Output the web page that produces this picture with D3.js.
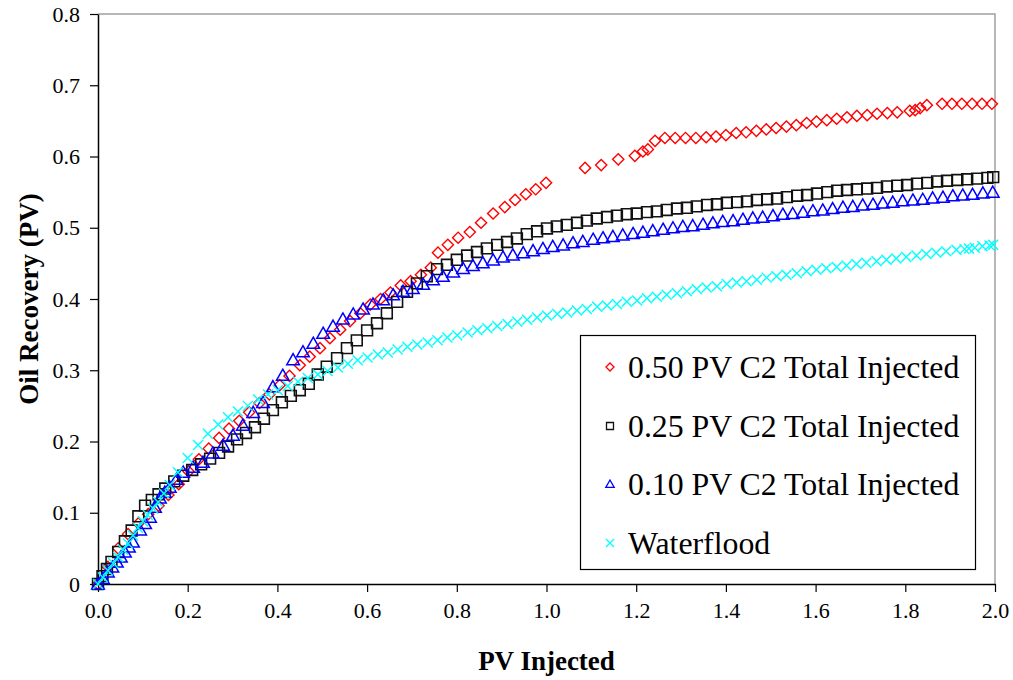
<!DOCTYPE html>
<html>
<head>
<meta charset="utf-8">
<script src="https://cdn.jsdelivr.net/npm/d3@7"></script>
<style>
  html, body { margin: 0; padding: 0; background: #fff; }
  svg { display: block; font-family: "Liberation Serif", "Times New Roman", serif; }
</style>
</head>
<body>
<svg id="chart" width="1013" height="680"></svg>
<script>
// Oil recovery vs. pore volumes injected

const xTicks = [0, 0.2, 0.4, 0.6, 0.8, 1.0, 1.2, 1.4, 1.6, 1.8, 2.0];
const yTicks = [0, 0.1, 0.2, 0.3, 0.4, 0.5, 0.6, 0.7, 0.8];
const seriesNames = ["0.50 PV C2 Total Injected", "0.25 PV C2 Total Injected",
                     "0.10 PV C2 Total Injected", "Waterflood"];

// 0.50 PV C2 slug
const pv50X = [0, 0.022, 0.045, 0.067, 0.09, 0.112, 0.135, 0.157, 0.18, 0.202, 0.225, 0.247, 0.27, 0.292,
  0.315, 0.337, 0.36, 0.382, 0.405, 0.427, 0.45, 0.472, 0.495, 0.517, 0.54, 0.562, 0.585, 0.607, 0.63,
  0.652, 0.675, 0.697, 0.72, 0.742, 0.758, 0.78, 0.803, 0.829, 0.854, 0.881, 0.907, 0.93, 0.954, 0.976,
  0.999, 1.086, 1.122, 1.16, 1.197, 1.215, 1.226, 1.242, 1.264, 1.287, 1.31, 1.333, 1.356, 1.378, 1.4,
  1.423, 1.445, 1.468, 1.49, 1.512, 1.535, 1.557, 1.58, 1.602, 1.625, 1.647, 1.67, 1.692, 1.715, 1.737,
  1.76, 1.782, 1.81, 1.822, 1.833, 1.848, 1.882, 1.904, 1.926, 1.949, 1.971, 1.993];
const pv50Y = [0, 0.024, 0.05, 0.07, 0.085, 0.098, 0.11, 0.125, 0.14, 0.158, 0.175, 0.19, 0.205, 0.218,
  0.229, 0.241, 0.254, 0.266, 0.279, 0.292, 0.307, 0.319, 0.331, 0.345, 0.357, 0.369, 0.38, 0.392, 0.4,
  0.409, 0.419, 0.425, 0.434, 0.444, 0.465, 0.476, 0.486, 0.494, 0.507, 0.52, 0.529, 0.539, 0.547, 0.554,
  0.563, 0.584, 0.588, 0.596, 0.601, 0.607, 0.61, 0.622, 0.626, 0.626, 0.626, 0.626, 0.627, 0.628, 0.63,
  0.633, 0.634, 0.636, 0.638, 0.64, 0.642, 0.644, 0.647, 0.649, 0.651, 0.653, 0.655, 0.657, 0.658, 0.66,
  0.661, 0.662, 0.664, 0.665, 0.668, 0.672, 0.674, 0.674, 0.674, 0.674, 0.674, 0.674];

// 0.25 PV C2 slug
const pv25X = [0, 0.01, 0.02, 0.03, 0.045, 0.06, 0.075, 0.09, 0.105, 0.12, 0.135, 0.15, 0.17, 0.19, 0.21,
  0.23, 0.25, 0.27, 0.29, 0.31, 0.33, 0.35, 0.37, 0.39, 0.41, 0.43, 0.45, 0.47, 0.49, 0.51, 0.533, 0.555,
  0.577, 0.6, 0.622, 0.644, 0.667, 0.689, 0.711, 0.733, 0.756, 0.778, 0.8, 0.823, 0.845, 0.867, 0.89,
  0.912, 0.934, 0.956, 0.979, 1.001, 1.023, 1.045, 1.068, 1.09, 1.112, 1.135, 1.157, 1.179, 1.201, 1.224,
  1.246, 1.268, 1.291, 1.313, 1.335, 1.358, 1.38, 1.402, 1.425, 1.447, 1.469, 1.492, 1.514, 1.536, 1.559,
  1.581, 1.603, 1.626, 1.648, 1.67, 1.692, 1.715, 1.737, 1.759, 1.782, 1.804, 1.826, 1.849, 1.871, 1.893,
  1.916, 1.938, 1.96, 1.983, 1.996];
const pv25Y = [0, 0.011, 0.021, 0.031, 0.045, 0.06, 0.075, 0.095, 0.11, 0.118, 0.126, 0.134, 0.144, 0.152,
  0.16, 0.168, 0.176, 0.184, 0.193, 0.203, 0.212, 0.22, 0.232, 0.244, 0.255, 0.264, 0.272, 0.281, 0.294,
  0.305, 0.317, 0.331, 0.342, 0.356, 0.366, 0.38, 0.396, 0.41, 0.422, 0.432, 0.442, 0.448, 0.455, 0.461,
  0.466, 0.471, 0.476, 0.48, 0.485, 0.491, 0.495, 0.499, 0.502, 0.504, 0.507, 0.51, 0.513, 0.515, 0.517,
  0.519, 0.52, 0.522, 0.523, 0.525, 0.527, 0.528, 0.53, 0.532, 0.533, 0.535, 0.536, 0.537, 0.539, 0.54,
  0.541, 0.543, 0.545, 0.546, 0.548, 0.55, 0.552, 0.553, 0.554, 0.555, 0.556, 0.558, 0.559, 0.56, 0.562,
  0.563, 0.565, 0.566, 0.567, 0.568, 0.569, 0.57, 0.571];

// 0.10 PV C2 slug
const pv10X = [0, 0.011, 0.022, 0.032, 0.042, 0.051, 0.06, 0.069, 0.078, 0.094, 0.105, 0.116, 0.127, 0.138,
  0.149, 0.16, 0.175, 0.19, 0.212, 0.234, 0.256, 0.279, 0.301, 0.323, 0.346, 0.368, 0.39, 0.412, 0.435,
  0.457, 0.48, 0.502, 0.524, 0.546, 0.569, 0.591, 0.613, 0.636, 0.658, 0.68, 0.702, 0.725, 0.747, 0.769,
  0.792, 0.814, 0.836, 0.858, 0.881, 0.903, 0.925, 0.948, 0.97, 0.992, 1.014, 1.037, 1.059, 1.081, 1.104,
  1.126, 1.148, 1.17, 1.193, 1.215, 1.237, 1.26, 1.282, 1.304, 1.326, 1.349, 1.371, 1.393, 1.416, 1.438,
  1.46, 1.482, 1.505, 1.527, 1.549, 1.572, 1.594, 1.616, 1.638, 1.661, 1.683, 1.705, 1.728, 1.75, 1.772,
  1.794, 1.817, 1.839, 1.861, 1.884, 1.906, 1.928, 1.95, 1.973, 1.995];
const pv10Y = [0, 0.008, 0.017, 0.024, 0.031, 0.038, 0.045, 0.052, 0.059, 0.076, 0.085, 0.094, 0.108, 0.121,
  0.129, 0.136, 0.147, 0.157, 0.164, 0.171, 0.184, 0.195, 0.209, 0.223, 0.241, 0.255, 0.277, 0.293, 0.315,
  0.326, 0.338, 0.352, 0.362, 0.372, 0.379, 0.386, 0.393, 0.399, 0.406, 0.411, 0.415, 0.421, 0.427, 0.432,
  0.438, 0.443, 0.447, 0.451, 0.455, 0.459, 0.462, 0.465, 0.468, 0.471, 0.474, 0.476, 0.479, 0.481, 0.484,
  0.486, 0.488, 0.49, 0.492, 0.494, 0.496, 0.498, 0.5, 0.502, 0.503, 0.505, 0.507, 0.509, 0.51, 0.512,
  0.514, 0.515, 0.517, 0.519, 0.52, 0.522, 0.524, 0.525, 0.527, 0.529, 0.53, 0.532, 0.533, 0.535, 0.536,
  0.538, 0.539, 0.54, 0.542, 0.543, 0.545, 0.546, 0.547, 0.549, 0.55];

// Waterflood baseline
const wfX = [0, 0.011, 0.022, 0.034, 0.045, 0.056, 0.067, 0.078, 0.089, 0.1, 0.111, 0.123, 0.134, 0.147,
  0.16, 0.178, 0.2, 0.223, 0.245, 0.268, 0.29, 0.312, 0.334, 0.357, 0.379, 0.401, 0.423, 0.446, 0.468,
  0.49, 0.512, 0.535, 0.557, 0.579, 0.601, 0.624, 0.646, 0.668, 0.69, 0.712, 0.735, 0.757, 0.779, 0.801,
  0.824, 0.846, 0.868, 0.89, 0.913, 0.935, 0.957, 0.979, 1.001, 1.024, 1.046, 1.068, 1.09, 1.113, 1.135,
  1.157, 1.179, 1.202, 1.224, 1.246, 1.268, 1.291, 1.313, 1.335, 1.357, 1.38, 1.402, 1.424, 1.446, 1.469,
  1.491, 1.513, 1.535, 1.558, 1.58, 1.602, 1.624, 1.647, 1.669, 1.691, 1.713, 1.736, 1.758, 1.78, 1.802,
  1.825, 1.847, 1.869, 1.891, 1.914, 1.932, 1.942, 1.955, 1.972, 1.988, 1.996];
const wfY = [0, 0.009, 0.019, 0.029, 0.038, 0.048, 0.057, 0.068, 0.079, 0.088, 0.097, 0.106, 0.115, 0.127,
  0.139, 0.157, 0.177, 0.195, 0.211, 0.224, 0.234, 0.242, 0.25, 0.259, 0.266, 0.272, 0.278, 0.284, 0.289,
  0.294, 0.299, 0.304, 0.309, 0.314, 0.318, 0.322, 0.325, 0.329, 0.333, 0.336, 0.339, 0.342, 0.346, 0.349,
  0.353, 0.356, 0.359, 0.362, 0.365, 0.368, 0.371, 0.374, 0.377, 0.379, 0.381, 0.384, 0.386, 0.389, 0.391,
  0.393, 0.396, 0.398, 0.401, 0.403, 0.406, 0.408, 0.411, 0.414, 0.416, 0.418, 0.421, 0.423, 0.425, 0.427,
  0.43, 0.432, 0.434, 0.436, 0.439, 0.441, 0.443, 0.445, 0.447, 0.449, 0.451, 0.453, 0.455, 0.457, 0.459,
  0.461, 0.463, 0.465, 0.467, 0.469, 0.47, 0.471, 0.472, 0.474, 0.475, 0.476];

const svg = d3.select("#chart");
const plot = { left: 98, right: 995, top: 14, bottom: 584 };

const x = d3.scaleLinear().domain([0, 2]).range([plot.left, plot.right]);
const y = d3.scaleLinear().domain([0, 0.8]).range([plot.bottom, plot.top]);

// Marker shapes (centred on 0,0)
const shapes = {
  diamond: r => `M0,${-r}L${r},0L0,${r}L${-r},0Z`,
  square: r => `M${-r},${-r}H${r}V${r}H${-r}Z`,
  triangle: r => `M0,${-r}L${r * 1.05},${r * 0.85}L${-r * 1.05},${r * 0.85}Z`,
  cross: r => `M${-r},${-r}L${r},${r}M${r},${-r}L${-r},${r}`
};

const series = [
  { name: seriesNames[0], xs: pv50X, ys: pv50Y, shape: "diamond", color: "#ff0000", r: 5.6, w: 1.4 },
  { name: seriesNames[1], xs: pv25X, ys: pv25Y, shape: "square",  color: "#111111", r: 5.4, w: 1.6 },
  { name: seriesNames[2], xs: pv10X, ys: pv10Y, shape: "triangle",color: "#0000ff", r: 6.0, w: 1.5 },
  { name: seriesNames[3], xs: wfX,   ys: wfY,   shape: "cross",   color: "#00ffff", r: 5.0, w: 1.4 }
];

// Plot frame: grey top and right edges
svg.append("path")
  .attr("d", `M${plot.left},${plot.top}H${plot.right}V${plot.bottom}`)
  .attr("fill", "none").attr("stroke", "#a0a0a0").attr("stroke-width", 1.5);

// Axes
const xAxis = d3.axisBottom(x).tickValues(xTicks).tickFormat(d3.format(".1f"))
  .tickSize(8).tickSizeOuter(0).tickPadding(10);
const yAxis = d3.axisLeft(y).tickValues(yTicks).tickFormat(d => d === 0 ? "0" : d3.format(".1f")(d))
  .tickSize(8).tickSizeOuter(0).tickPadding(10);

const gx = svg.append("g").attr("transform", `translate(0,${plot.bottom})`).call(xAxis);
const gy = svg.append("g").attr("transform", `translate(${plot.left},0)`).call(yAxis);
[gx, gy].forEach(g => {
  g.select(".domain").attr("stroke", "#000").attr("stroke-width", 1.5);
  g.selectAll(".tick line").attr("stroke", "#000").attr("stroke-width", 1.2);
  g.selectAll(".tick text").attr("font-family", "Liberation Serif").attr("font-size", 22).attr("fill", "#000");
});

// Series markers
series.forEach(s => {
  const pts = s.xs.map((v, i) => [v, s.ys[i]]);
  svg.append("g")
    .selectAll("path")
    .data(pts)
    .join("path")
    .attr("transform", d => `translate(${x(d[0])},${y(d[1])})`)
    .attr("d", shapes[s.shape](s.r))
    .attr("fill", "none")
    .attr("stroke", s.color)
    .attr("stroke-width", s.w);
});

// Axis titles
svg.append("text")
  .attr("x", (plot.left + plot.right) / 2).attr("y", 670)
  .attr("text-anchor", "middle")
  .attr("font-size", 27).attr("font-weight", "bold")
  .text("PV Injected");

svg.append("text")
  .attr("transform", `translate(38,${(plot.top + plot.bottom) / 2}) rotate(-90)`)
  .attr("text-anchor", "middle")
  .attr("font-size", 27).attr("font-weight", "bold")
  .text("Oil Recovery (PV)");

// Legend
const legend = svg.append("g");
legend.append("rect")
  .attr("x", 580.5).attr("y", 335.5).attr("width", 395).attr("height", 234)
  .attr("fill", "#fff").attr("stroke", "#000").attr("stroke-width", 1.2);

const rowY = [367, 426, 484, 543];
series.forEach((s, i) => {
  legend.append("path")
    .attr("transform", `translate(610,${rowY[i]})`)
    .attr("d", shapes[s.shape](s.shape === "square" ? 3.5 : 4))
    .attr("fill", "none").attr("stroke", s.color).attr("stroke-width", 1.3);
  legend.append("text")
    .attr("x", 628).attr("y", rowY[i] + 11)
    .attr("font-size", 31.8)
    .text(s.name);
});
</script>
</body>
</html>
